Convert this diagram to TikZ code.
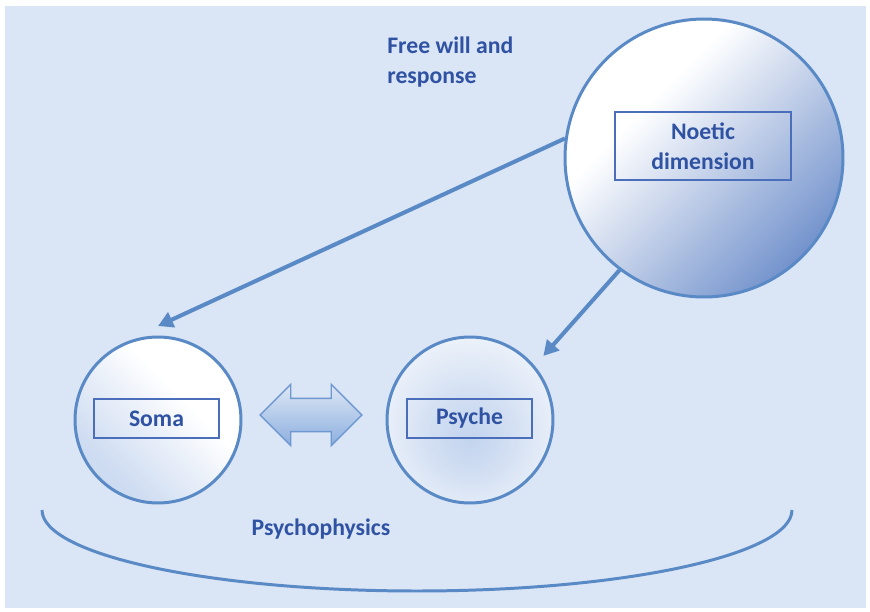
\documentclass[tikz,border=0pt]{standalone}
\usepackage{fontspec}
\setmainfont{Carlito}
\usetikzlibrary{shapes.arrows,arrows.meta}
\definecolor{back}{HTML}{DAE5F6}
\definecolor{rim}{HTML}{5A8AC6}
\definecolor{ink}{HTML}{2F52A3}
\definecolor{frame}{HTML}{4A6EBA}
\definecolor{deep}{HTML}{4C74BE}
\definecolor{pale}{HTML}{C3D4EE}
\definecolor{arrowrim}{HTML}{6F98D0}
\definecolor{arrowfill}{HTML}{8CAFDF}
\pgfdeclarehorizontalshading{noeticshade}{100bp}{color(0bp)=(white); color(36bp)=(white); color(86bp)=(deep); color(100bp)=(deep)}
\pgfdeclarehorizontalshading{somashade}{100bp}{color(0bp)=(pale); color(30bp)=(pale!80!white); color(60bp)=(white); color(100bp)=(white)}
\pgfdeclareradialshading{psycheshade}{\pgfpoint{0bp}{-6bp}}{color(0bp)=(pale); color(12bp)=(pale!75!white); color(30bp)=(pale!25!white); color(50bp)=(white)}
\tikzset{
  ball/.style={circle, draw=rim, line width=1.7pt},
  tag/.style={draw=frame, line width=0.8pt, text=ink, align=center, inner sep=0pt},
  caption/.style={text=ink, inner sep=0pt},
  link/.style={draw=rim, line width=2.3pt, -{Triangle[length=0.3cm, width=0.32cm]}}
}

\begin{document}
\begin{tikzpicture}[x=0.02cm, y=-0.02cm, font=\bfseries\fontsize{13.5}{17}\selectfont]
\useasboundingbox (0,0) rectangle (870,612);
\fill[back] (5,6) rectangle (866,608);

% circles
\node[ball, minimum size=5.56cm, shading=noeticshade, shading angle=-45] (noetic) at (704,158) {};
\node[ball, minimum size=3.32cm, shading=somashade, shading angle=45] (soma) at (158,420) {};
\node[ball, minimum size=3.32cm, shading=psycheshade] (psyche) at (470,420) {};

% labelled boxes
\node[tag, minimum width=3.52cm, minimum height=1.36cm] (noeticbox) at (703,146) {Noetic\\dimension};
\node[tag, minimum width=2.5cm, minimum height=0.78cm] (somabox) at (156.5,418.5) {Soma};
\node[tag, minimum width=2.5cm, minimum height=0.78cm] (psychebox) at (469.5,418.5) {Psyche};

% interaction
\node[double arrow, draw=arrowrim, line width=0.8pt, minimum height=2.04cm, inner xsep=0pt, inner ysep=0.32cm,
      double arrow head extend=0.28cm, top color=pale!55!white, bottom color=arrowfill] (exchange) at (311,415) {};

\draw[link] (noetic.172) -- ([yshift=0.19cm]soma.north);
\draw[link, shorten >=0.26cm] (noetic.233) -- (psyche.40);

\node[caption, align=left, anchor=north west] (freewill) at (387,37) {Free will and\\response};

% psychophysics bowl
\draw[rim, line width=1.7pt] (42,510) arc[start angle=180, end angle=0, x radius=375, y radius=81];
\node[caption, anchor=base] (psychophysics) at (321,535) {Psychophysics};
\end{tikzpicture}
\end{document}
